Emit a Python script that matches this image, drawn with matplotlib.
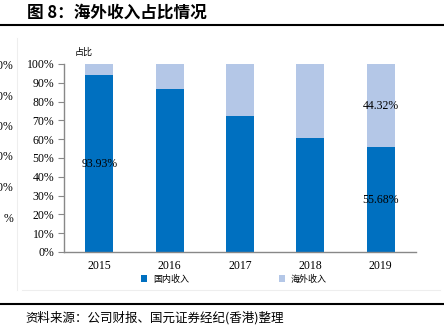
import matplotlib
matplotlib.use("Agg")
import matplotlib.pyplot as plt
import numpy as np

plt.rcParams['font.family'] = ['Liberation Serif', 'Noto Sans CJK SC', 'DejaVu Sans']

years = ['2015', '2016', '2017', '2018', '2019']
domestic = [93.93, 86.7, 72.3, 60.5, 55.68]
overseas = [100 - v for v in domestic]
ticks = list(range(0, 101, 10))
left_frag = ['00%', '00%', '00%', '00%', '00%', '%']

dark = '#0070C0'
light = '#B4C7E7'

W, H = 444, 328
fig = plt.figure(figsize=(W / 100, H / 100), dpi=100)
ax = fig.add_axes([64 / W, 1 - 252 / H, (416 - 64) / W, (252 - 64) / H])

x = np.arange(len(years))
ax.bar(x, domestic, width=0.4, color=dark, label='国内收入', zorder=2)
ax.bar(x, overseas, width=0.4, bottom=domestic, color=light, label='海外收入', zorder=2)

ax.set_xlim(-0.5, len(years) - 0.5)
ax.set_ylim(0, 100)
ax.set_yticks(ticks)
ax.set_yticklabels([f'{t}%' for t in ticks], fontsize=8.5)
ax.set_xticks(x)
ax.set_xticklabels(years, fontsize=8.5)
ax.tick_params(axis='x', length=0, pad=6)
ax.tick_params(axis='y', length=4, width=0.8, color='#888888', direction='out', pad=3)
for s in ['top', 'right']:
    ax.spines[s].set_visible(False)
for s in ['left', 'bottom']:
    ax.spines[s].set_color('#888888')
    ax.spines[s].set_linewidth(1.0)

# value labels
ax.text(0, domestic[0] / 2, '93.93%', ha='center', va='center', fontsize=8.5)
ax.text(4, domestic[4] / 2, '55.68%', ha='center', va='center', fontsize=8.5)
ax.text(4, domestic[4] + overseas[4] / 2, '44.32%', ha='center', va='center', fontsize=8.5)

ax.text(-0.35, 104, '占比', fontsize=6.5, family='Noto Sans CJK SC', ha='left', va='bottom')

leg = fig.legend(loc='center', bbox_to_anchor=(234 / W, 1 - 279 / H), ncol=2, frameon=False,
                 prop={'family': 'Noto Sans CJK SC', 'size': 6.5}, handlelength=0.7,
                 handleheight=0.7, columnspacing=10, handletextpad=0.6)

# title and rules
fig.text(27 / W, 1 - 13 / H, '图 8：海外收入占比情况', fontsize=12, fontweight='bold',
         family='Noto Sans CJK SC', ha='left', va='center')
fig.add_artist(plt.Line2D([0, 1], [1 - 25 / H, 1 - 25 / H], color='black', lw=1.5))
fig.add_artist(plt.Line2D([0, 1], [1 - 304 / H, 1 - 304 / H], color='black', lw=1.5))
fig.text(25 / W, 1 - 318 / H, '资料来源：公司财报、国元证券经纪(香港)整理', fontsize=9,
         family='Noto Sans CJK SC', style='italic', ha='left', va='center')

# faint frame of the chart box and cut-off neighbour labels
fig.add_artist(plt.Line2D([17 / W, 17 / W], [1 - 290 / H, 1 - 38 / H], color='#eeeeee', lw=0.8))
fig.add_artist(plt.Line2D([22 / W, 440 / W], [1 - 290 / H, 1 - 290 / H], color='#eeeeee', lw=0.8))
for i, lab in enumerate(left_frag):
    fig.text(13 / W, 1 - (66 + i * 30.5) / H, lab, fontsize=8.5, ha='right', va='center')

fig.savefig('out.png', dpi=100)
